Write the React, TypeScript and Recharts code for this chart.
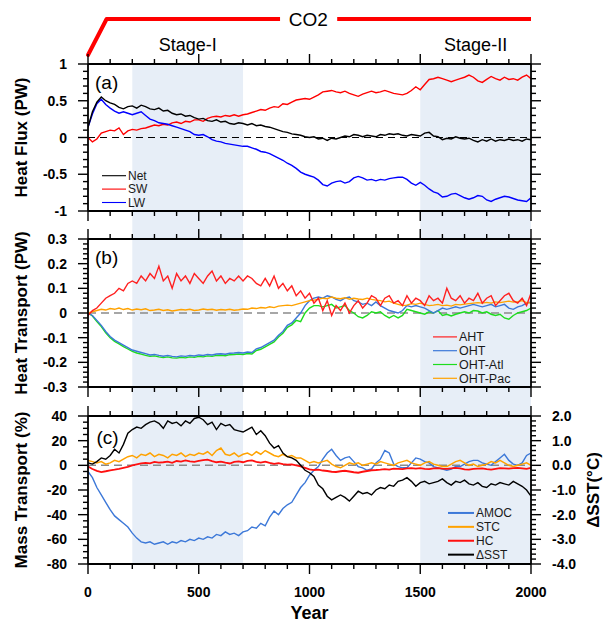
import React from 'react';
import {
  LineChart, Line, XAxis, YAxis, ReferenceArea, ReferenceLine, ReferenceDot, Legend
} from 'recharts';

// 전체 크기와 플롯 영역 경계
const W = 605;
const H = 627;
const PLOT_L = 88;
const PLOT_R = 531;
const AX = 10; // 축 밴드 두께

// 연도 (20년 간격)
const YEARS = Array.from({ length: 101 }, (_, i) => i * 20);

// (a) Heat Flux (PW)
const NET = [
  0.14, 0.35, 0.48, 0.55, 0.50, 0.47, 0.45, 0.41, 0.39, 0.42,
  0.43, 0.40, 0.44, 0.42, 0.39, 0.38, 0.40, 0.36, 0.37, 0.33,
  0.31, 0.32, 0.29, 0.30, 0.27, 0.25, 0.26, 0.23, 0.22, 0.24,
  0.21, 0.22, 0.19, 0.18, 0.20, 0.19, 0.17, 0.19, 0.16, 0.17,
  0.15, 0.14, 0.12, 0.10, 0.08, 0.07, 0.05, 0.04, 0.03, 0.01,
  0.00, 0.01, -0.02, -0.01, -0.04, -0.01, -0.02, 0.00, 0.02, 0.01,
  0.04, 0.03, 0.01, 0.03, 0.02, 0.01, 0.04, 0.03, 0.05, 0.04,
  0.05, 0.03, 0.02, 0.04, 0.03, 0.02, 0.06, 0.07, 0.02, 0.01,
  -0.03, -0.01, -0.02, 0.01, -0.01, -0.02, -0.01, -0.04, -0.06, -0.03,
  -0.05, -0.02, -0.05, -0.03, -0.04, -0.02, -0.04, -0.03, -0.05, -0.02,
  -0.03,
];
const SW = [
  0.00, -0.06, -0.02, 0.06, 0.08, 0.10, 0.09, 0.13, 0.04, 0.09,
  0.11, 0.10, 0.12, 0.13, 0.15, 0.17, 0.16, 0.18, 0.17, 0.20,
  0.21, 0.19, 0.22, 0.21, 0.24, 0.24, 0.22, 0.26, 0.28, 0.29,
  0.28, 0.30, 0.29, 0.31, 0.29, 0.31, 0.32, 0.34, 0.36, 0.38,
  0.37, 0.40, 0.42, 0.41, 0.46, 0.45, 0.48, 0.51, 0.52, 0.53,
  0.52, 0.55, 0.58, 0.62, 0.63, 0.64, 0.62, 0.61, 0.63, 0.60,
  0.58, 0.56, 0.59, 0.61, 0.63, 0.61, 0.62, 0.64, 0.62, 0.60,
  0.59, 0.58, 0.60, 0.64, 0.69, 0.65, 0.72, 0.79, 0.80, 0.82,
  0.80, 0.78, 0.76, 0.78, 0.80, 0.82, 0.85, 0.82, 0.77, 0.75,
  0.79, 0.83, 0.80, 0.78, 0.82, 0.79, 0.80, 0.78, 0.82, 0.85,
  0.80,
];
const LW = [
  0.14, 0.32, 0.46, 0.52, 0.45, 0.40, 0.36, 0.33, 0.35, 0.33,
  0.31, 0.33, 0.35, 0.30, 0.25, 0.23, 0.20, 0.19, 0.18, 0.16,
  0.14, 0.12, 0.10, 0.08, 0.04, 0.03, 0.04, 0.01, -0.03, -0.05,
  -0.06, -0.08, -0.09, -0.10, -0.11, -0.12, -0.12, -0.14, -0.16, -0.19,
  -0.20, -0.22, -0.25, -0.28, -0.31, -0.35, -0.38, -0.42, -0.47, -0.50,
  -0.52, -0.54, -0.58, -0.64, -0.66, -0.62, -0.60, -0.59, -0.62, -0.60,
  -0.55, -0.53, -0.55, -0.58, -0.57, -0.59, -0.57, -0.58, -0.56, -0.55,
  -0.54, -0.54, -0.57, -0.62, -0.65, -0.61, -0.65, -0.70, -0.74, -0.76,
  -0.81, -0.80, -0.77, -0.76, -0.79, -0.82, -0.84, -0.82, -0.79, -0.80,
  -0.85, -0.87, -0.84, -0.82, -0.80, -0.81, -0.83, -0.85, -0.86, -0.87,
  -0.82,
];

// (b) Heat Transport (PW)
const AHT = [
  -0.01, 0.01, 0.02, 0.04, 0.06, 0.07, 0.08, 0.10, 0.09, 0.12,
  0.13, 0.12, 0.15, 0.13, 0.16, 0.14, 0.19, 0.13, 0.15, 0.10,
  0.16, 0.13, 0.15, 0.12, 0.16, 0.14, 0.12, 0.15, 0.17, 0.13,
  0.15, 0.12, 0.14, 0.13, 0.15, 0.13, 0.15, 0.14, 0.12, 0.11,
  0.14, 0.11, 0.15, 0.10, 0.12, 0.09, 0.11, 0.07, 0.09, 0.06,
  0.08, 0.04, 0.06, 0.01, 0.05, -0.01, 0.03, 0.01, 0.04, 0.00,
  0.03, 0.05, 0.02, 0.04, 0.07, 0.06, 0.03, 0.06, 0.07, 0.04,
  0.05, 0.03, 0.07, 0.04, 0.06, 0.05, 0.03, 0.07, 0.05, 0.06,
  0.04, 0.10, 0.06, 0.05, 0.07, 0.04, 0.06, 0.05, 0.08, 0.04,
  0.06, 0.07, 0.03, 0.05, 0.07, 0.08, 0.05, 0.04, 0.06, 0.03,
  0.08,
];
const OHT = [
  0.0, -0.01, -0.03, -0.05, -0.075, -0.095, -0.11, -0.12, -0.13, -0.14,
  -0.15, -0.155, -0.16, -0.165, -0.17, -0.168, -0.172, -0.175, -0.172, -0.176,
  -0.178, -0.174, -0.176, -0.172, -0.174, -0.17, -0.172, -0.168, -0.17, -0.166,
  -0.165, -0.167, -0.163, -0.162, -0.16, -0.162, -0.158, -0.16, -0.145, -0.14,
  -0.13, -0.12, -0.11, -0.09, -0.075, -0.05, -0.04, -0.02, 0.0, 0.03,
  0.05, 0.06, 0.065, 0.06, 0.07, 0.065, 0.055, 0.05, 0.06, 0.065,
  0.05, 0.045, 0.035, 0.04, 0.03, 0.045, 0.03, 0.02, 0.01, 0.005,
  0.0, 0.01, 0.03, 0.025, 0.03, 0.025, 0.02, 0.01, 0.0, 0.01,
  0.02, 0.015, 0.02, 0.025, 0.02, 0.025, 0.03, 0.035, 0.03, 0.025,
  0.03, 0.035, 0.025, 0.03, 0.035, 0.02, 0.015, 0.025, 0.03, 0.04,
  0.045,
];
const OHT_ATL = [
  0.0, -0.012, -0.035, -0.055, -0.08, -0.1, -0.115, -0.125, -0.136, -0.146,
  -0.156, -0.162, -0.167, -0.172, -0.176, -0.174, -0.178, -0.181, -0.178, -0.182,
  -0.183, -0.18, -0.182, -0.178, -0.18, -0.176, -0.178, -0.174, -0.176, -0.172,
  -0.171, -0.173, -0.169, -0.168, -0.166, -0.168, -0.164, -0.166, -0.152, -0.147,
  -0.137, -0.127, -0.117, -0.097, -0.082, -0.058, -0.048, -0.03, -0.035, 0.0,
  0.02, 0.03, 0.03, 0.025, 0.03, 0.035, 0.02, 0.025, 0.03, 0.01,
  0.0, -0.015, -0.02, -0.01, 0.005, 0.0, 0.005, -0.01, -0.02, -0.01,
  -0.02, -0.01, 0.015, 0.01, 0.005, 0.0, -0.005, 0.005, 0.0, 0.01,
  -0.01, -0.005, -0.012, -0.005, 0.0, 0.005, 0.0, 0.01, 0.008, 0.0,
  0.005, -0.005, -0.01, -0.005, -0.02, -0.025, -0.01, 0.0, 0.005, 0.01,
  0.02,
];
const OHT_PAC = [
  0.0, 0.005, 0.01, 0.015, 0.012, 0.018, 0.015, 0.02, 0.014, 0.018,
  0.012, 0.016, 0.013, 0.017, 0.01, 0.012, 0.015, 0.01, 0.013, 0.008,
  0.011, 0.014, 0.012, 0.015, 0.01, 0.012, 0.016, 0.013, 0.015, 0.011,
  0.014, 0.012, 0.015, 0.011, 0.013, 0.016, 0.015, 0.02, 0.018, 0.022,
  0.02, 0.025, 0.022, 0.028, 0.03, 0.032, 0.03, 0.035, 0.04, 0.045,
  0.05, 0.052, 0.055, 0.06, 0.058, 0.065, 0.06, 0.058, 0.062, 0.056,
  0.06, 0.057, 0.055, 0.06, 0.055, 0.052, 0.05, 0.045, 0.048, 0.04,
  0.035, 0.03, 0.032, 0.038, 0.035, 0.04, 0.035, 0.03, 0.032, 0.035,
  0.03, 0.032, 0.028, 0.035, 0.033, 0.036, 0.038, 0.04, 0.042, 0.04,
  0.043, 0.04, 0.045, 0.042, 0.045, 0.048, 0.044, 0.046, 0.05, 0.042,
  0.04,
];

// (c) Mass Transport (%) + ΔSST (°C)
const AMOC = [
  -5, -10, -18, -24, -30, -36, -41, -44, -47, -50,
  -55, -59, -62, -63, -62, -64, -63, -62, -64, -62,
  -63, -61, -62, -60, -61, -59, -60, -58, -59, -56,
  -57, -54, -56, -55, -57, -54, -53, -50, -51, -47,
  -49, -42, -37, -40, -35, -32, -30, -24, -18, -14,
  -8, -4, -1, 5, 10, 13, 8, 4, 6, 7,
  3, -1, -2, -4, -3, 2, 5, 12, 10, 1,
  -1, -2, -2, 2, 6, 5, 3, 2, -1, -2,
  -3, -4, -3, -1, -1, 1, 3, 4, 4, 2,
  1, 0, 3, 6, 9, 4, 1, 0, 2, 8,
  10,
];
const STC = [
  4, 3, 2, 3, 1, 2, 4, 3, 5, 7,
  8, 6, 9, 8, 10, 7, 9, 8, 6, 9,
  8, 10, 7, 9, 8, 10, 9, 11, 8, 12,
  14, 9, 8, 10, 7, 9, 10, 8, 11, 9,
  12, 10, 8, 7, 9, 7, 8, 6, 6, 4,
  2, 3, 2, 3, 4, 1, -1, -2, 0, 2,
  1, 2, 0, 1, 2, 1, 3, 2, 1, 0,
  2, 3, 4, 2, 1, 0, 2, 3, 1, 0,
  -1, -1, 1, 3, 4, 2, 0, 1, -1, 0,
  1, 3, 2, 4, 2, 0, -1, 0, 1, 2,
  0,
];
const HC = [
  -1, -3, -4.5, -5.5, -4.8, -4, -3.5, -2.8, -2, -1.2,
  0, 0.8, 1.5, 2, 1.6, 2.8, 2.2, 2.5, 3, 2,
  3.5, 3, 4, 3.2, 2.8, 3.6, 4.2, 4.6, 3.5, 2.5,
  3, 2.2, 1.5, 2.8, 3.2, 2.5, 3.6, 4, 2.8, 2.2,
  3, 2, 1.2, 1.8, 1, 0.5, 0.8, 0, -0.8, -2,
  -3.2, -3.8, -3.5, -4.2, -4.6, -5.2, -5.4, -4.8, -4.4, -5,
  -5.6, -6, -5.2, -4.6, -4, -3.8, -3.5, -3, -3.4, -2.6,
  -2.8, -3, -2.4, -2.2, -2.6, -2.2, -2.8, -3, -2.4, -2.2,
  -2.6, -2.8, -2.4, -2, -2.4, -3.2, -3.4, -2.8, -2.6, -2.4,
  -3, -3.4, -2.8, -2.2, -2.4, -2.6, -2.2, -2, -2.4, -2.8,
  -2,
];
const DSST = [
  0.1, 0.05, 0.15, 0.3, 0.25, 0.4, 0.65, 0.5, 0.85, 1.3,
  1.45, 1.55, 1.5, 1.65, 1.75, 1.8, 1.7, 1.5, 1.8, 1.7,
  1.75, 1.6, 1.8, 1.7, 1.9, 1.95, 1.85, 1.65, 1.75, 1.45,
  1.7, 1.6, 1.65, 1.45, 1.4, 1.35, 1.45, 1.55, 1.25, 1.4,
  1.2, 0.9, 0.7, 0.8, 0.5, 0.35, 0.3, 0.2, 0.0, -0.2,
  -0.3, -0.45, -0.8, -0.95, -1.25, -1.4, -1.3, -1.2, -1.3, -1.45,
  -1.25, -1.05, -1.15, -1.1, -1.2, -1.0, -0.9, -0.95, -0.8, -0.85,
  -0.65, -0.6, -0.5, -0.65, -0.85, -0.7, -0.65, -0.75, -0.7, -0.65,
  -0.55, -0.7, -0.8, -0.65, -0.7, -0.6, -0.75, -0.8, -0.7, -0.85,
  -0.9, -0.75, -0.8, -0.7, -0.75, -0.8, -0.65, -0.75, -0.85, -1.0,
  -1.25,
];

// 범례 이름
const NAMES_A = ['Net', 'SW', 'LW'];
const NAMES_B = ['AHT', 'OHT', 'OHT-Atl', 'OHT-Pac'];
const NAMES_C = ['AMOC', 'STC', 'HC', '\u0394SST'];

// 눈금 (주 눈금 + 보조 눈금 간격)
const range = (lo: number, hi: number, step: number) => {
  const out: number[] = [];
  const n = Math.round((hi - lo) / step);
  for (let i = 0; i <= n; i++) out.push(+(lo + i * step).toFixed(4));
  return out;
};
const X_MAJOR = [0, 500, 1000, 1500, 2000];
const X_TICKS = range(0, 2000, 100);
const A_MAJOR = [-1, -0.5, 0, 0.5, 1];
const A_TICKS = range(-1, 1, 0.1);
const B_MAJOR = [-0.3, -0.2, -0.1, 0, 0.1, 0.2, 0.3];
const B_TICKS = range(-0.3, 0.3, 0.02);
const C_MAJOR = [-80, -60, -40, -20, 0, 20, 40];
const C_TICKS = range(-80, 40, 5);
const D_MAJOR = [-4, -3, -2, -1, 0, 1, 2];
const D_TICKS = range(-4, 2, 0.2);

// 색상
const SHADE = '#E7EEF7';
const C_NET = '#000000';
const C_SW = '#FF0000';
const C_LW = '#0000FF';
const C_AHT = '#FF2020';
const C_OHT = '#3C78D8';
const C_ATL = '#1EDC1E';
const C_PAC = '#FFA200';
const C_AMOC = '#3C78D8';
const C_STC = '#FFA200';
const C_HC = '#FF1010';
const C_DSST = '#000000';

const DATA = YEARS.map((year, i) => ({
  year,
  net: NET[i], sw: SW[i], lw: LW[i],
  aht: AHT[i], oht: OHT[i], atl: OHT_ATL[i], pac: OHT_PAC[i],
  amoc: AMOC[i], stc: STC[i], hc: HC[i], dsst: DSST[i],
}));

const AXIS_LINE = { stroke: '#000', strokeWidth: 1.8 };

const chartMargin = (top: number, bottom: number) => ({
  top: top - AX,
  bottom: H - bottom - AX,
  left: PLOT_L - AX,
  right: W - PLOT_R - AX,
});

// x축 눈금: 주 눈금은 길게, 보조 눈금은 짧게 (바깥쪽)
const xTick = (dir: number, withLabel: boolean) => (p: any) => {
  const v = p.payload.value;
  const major = X_MAJOR.includes(v);
  const len = major ? 10 : 5;
  return (
    <g>
      <line x1={p.x} x2={p.x} y1={p.y} y2={p.y + dir * len} stroke="#000" strokeWidth={1.4} />
      {withLabel && major && (
        <text x={p.x} y={p.y + 28} dy={5} textAnchor="middle" fontSize={14} fontWeight="bold" fill="#000">
          {v}
        </text>
      )}
    </g>
  );
};

// y축 눈금
const yTick = (dir: number, majors: number[], fmt: ((v: number) => string) | null) => (p: any) => {
  const v = p.payload.value;
  const major = majors.some((m) => Math.abs(m - v) < 1e-6);
  const len = major ? 10 : 5;
  return (
    <g>
      <line x1={p.x} x2={p.x + dir * len} y1={p.y} y2={p.y} stroke="#000" strokeWidth={1.4} />
      {fmt && major && (
        <text x={p.x + dir * 21} y={p.y} dy={5} textAnchor={dir < 0 ? 'end' : 'start'}
          fontSize={14} fontWeight="bold" fill="#000">
          {fmt(v)}
        </text>
      )}
    </g>
  );
};

const fmtPlain = (v: number) => String(v);
const fmtOne = (v: number) => v.toFixed(1);

// 세로 축 제목
const sideTitle = (text: string, x: number) => (p: any) => {
  const vb = p.viewBox;
  const cy = vb.y + vb.height / 2;
  return (
    <text x={x} y={cy} dy={6} transform={`rotate(-90 ${x} ${cy})`} textAnchor="middle"
      fontSize={17} fontWeight="bold" fill="#000">
      {text}
    </text>
  );
};

const yearTitle = (p: any) => {
  const vb = p.viewBox;
  return (
    <text x={vb.x + vb.width / 2} y={612} dy={6.5} textAnchor="middle" fontSize={18} fontWeight="bold" fill="#000">
      Year
    </text>
  );
};

// 범례 (선 + 이름)
const legendContent = (names: string[], colors: string[], fontSize: number, rowH: number, lineLen: number, lineW: number) => () => (
  <svg width={lineLen + 80} height={rowH * names.length} style={{ display: 'block', overflow: 'visible' }}>
    {names.map((name, i) => {
      const y = rowH * i + rowH / 2;
      return (
        <g key={name}>
          <line x1={0} x2={lineLen} y1={y} y2={y} stroke={colors[i]} strokeWidth={lineW} />
          <text x={lineLen + 2} y={y} dy={fontSize * 0.36} fontSize={fontSize} fill="#1a1a1a">{name}</text>
        </g>
      );
    })}
  </svg>
);

const panelLabel = (text: string) => ({ value: text, position: 'center' as const, fontSize: 19, fill: '#000' });

const sharedX = (withLabel: boolean) => [
  <XAxis key="xb" dataKey="year" type="number" domain={[0, 2000]} allowDataOverflow ticks={X_TICKS}
    interval={0} height={AX} tickSize={0} tickMargin={0} tickLine={false} axisLine={AXIS_LINE}
    tick={xTick(1, withLabel)} label={withLabel ? yearTitle : undefined} />,
  <XAxis key="xt" xAxisId="top" orientation="top" dataKey="year" type="number" domain={[0, 2000]} allowDataOverflow
    ticks={X_TICKS} interval={0} height={AX} tickSize={0} tickMargin={0} tickLine={false} axisLine={AXIS_LINE}
    tick={xTick(-1, false)} />,
];

const PanelA = () => (
  <LineChart width={W} height={H} data={DATA} margin={chartMargin(64, 211)}>
    <ReferenceArea x1={200} x2={700} y1={-1.381} y2={1} fill={SHADE} fillOpacity={1} stroke="none" ifOverflow="visible" />
    <ReferenceArea x1={1500} x2={2000} y1={-1.381} y2={1} fill={SHADE} fillOpacity={1} stroke="none" ifOverflow="visible" />
    {sharedX(false)}
    <YAxis type="number" domain={[-1, 1]} allowDataOverflow ticks={A_TICKS} interval={0} width={AX}
      tickSize={0} tickMargin={0} tickLine={false} axisLine={AXIS_LINE} tick={yTick(-1, A_MAJOR, fmtPlain)}
      label={sideTitle('Heat Flux (PW)', 21)} />
    <YAxis yAxisId="right" orientation="right" type="number" domain={[-1, 1]} allowDataOverflow ticks={A_TICKS}
      interval={0} width={AX} tickSize={0} tickMargin={0} tickLine={false} axisLine={AXIS_LINE}
      tick={yTick(1, A_MAJOR, null)} />
    <ReferenceLine y={0} stroke="#000" strokeDasharray="7 5" strokeWidth={1} />
    <Line dataKey="sw" stroke={C_SW} strokeWidth={1.4} dot={false} isAnimationActive={false} />
    <Line dataKey="lw" stroke={C_LW} strokeWidth={1.4} dot={false} isAnimationActive={false} />
    <Line dataKey="net" stroke={C_NET} strokeWidth={1.4} dot={false} isAnimationActive={false} />
    {/* CO2 증가 구간 표시 */}
    <ReferenceLine segment={[{ x: 0, y: 1.122 }, { x: 84, y: 1.612 }]} stroke="#FF0000" strokeWidth={4} strokeLinecap="round" ifOverflow="visible" />
    <ReferenceLine segment={[{ x: 84, y: 1.612 }, { x: 867, y: 1.612 }]} stroke="#FF0000" strokeWidth={4} ifOverflow="visible" />
    <ReferenceLine segment={[{ x: 1125, y: 1.612 }, { x: 2000, y: 1.612 }]} stroke="#FF0000" strokeWidth={4} ifOverflow="visible" />
    <ReferenceDot x={995} y={1.612} r={0.1} fill="none" stroke="none" ifOverflow="visible"
      label={{ value: 'CO2', position: 'center', fontSize: 19, fill: '#000' }} />
    <ReferenceDot x={450} y={1.265} r={0.1} fill="none" stroke="none" ifOverflow="visible"
      label={{ value: 'Stage-I', position: 'center', fontSize: 18, fill: '#000' }} />
    <ReferenceDot x={1750} y={1.265} r={0.1} fill="none" stroke="none" ifOverflow="visible"
      label={{ value: 'Stage-II', position: 'center', fontSize: 18, fill: '#000' }} />
    <ReferenceDot x={84} y={0.755} r={0.1} fill="none" stroke="none" ifOverflow="visible" label={panelLabel('(a)')} />
    <Legend layout="horizontal" verticalAlign="middle" align="center"
      wrapperStyle={{ left: 102, top: 169, width: 110, height: 40 }}
      content={legendContent(NAMES_A, [C_NET, C_SW, C_LW], 12, 13.4, 24, 1.1)} />
  </LineChart>
);

const PanelB = () => (
  <LineChart width={W} height={H} data={DATA} margin={chartMargin(239, 387)}>
    <ReferenceArea x1={200} x2={700} y1={-0.4176} y2={0.3} fill={SHADE} fillOpacity={1} stroke="none" ifOverflow="visible" />
    <ReferenceArea x1={1500} x2={2000} y1={-0.4176} y2={0.3} fill={SHADE} fillOpacity={1} stroke="none" ifOverflow="visible" />
    {sharedX(false)}
    <YAxis type="number" domain={[-0.3, 0.3]} allowDataOverflow ticks={B_TICKS} interval={0} width={AX}
      tickSize={0} tickMargin={0} tickLine={false} axisLine={AXIS_LINE} tick={yTick(-1, B_MAJOR, fmtPlain)}
      label={sideTitle('Heat Transport (PW)', 21)} />
    <YAxis yAxisId="right" orientation="right" type="number" domain={[-0.3, 0.3]} allowDataOverflow ticks={B_TICKS}
      interval={0} width={AX} tickSize={0} tickMargin={0} tickLine={false} axisLine={AXIS_LINE}
      tick={yTick(1, B_MAJOR, null)} />
    <ReferenceLine y={0} stroke="#8a8a8a" strokeDasharray="8 5" strokeWidth={1.5} />
    <Line dataKey="atl" stroke={C_ATL} strokeWidth={1.4} dot={false} isAnimationActive={false} />
    <Line dataKey="oht" stroke={C_OHT} strokeWidth={1.4} dot={false} isAnimationActive={false} />
    <Line dataKey="pac" stroke={C_PAC} strokeWidth={1.4} dot={false} isAnimationActive={false} />
    <Line dataKey="aht" stroke={C_AHT} strokeWidth={1.4} dot={false} isAnimationActive={false} />
    <ReferenceDot x={84} y={0.227} r={0.1} fill="none" stroke="none" ifOverflow="visible" label={panelLabel('(b)')} />
    <Legend layout="horizontal" verticalAlign="middle" align="center"
      wrapperStyle={{ left: 433, top: 330, width: 110, height: 55 }}
      content={legendContent(NAMES_B, [C_AHT, C_OHT, C_ATL, C_PAC], 12.5, 13.8, 24, 1.2)} />
  </LineChart>
);

const PanelC = () => (
  <LineChart width={W} height={H} data={DATA} margin={chartMargin(416, 564)}>
    <ReferenceArea x1={200} x2={700} y1={-80} y2={40} fill={SHADE} fillOpacity={1} stroke="none" ifOverflow="visible" />
    <ReferenceArea x1={1500} x2={2000} y1={-80} y2={40} fill={SHADE} fillOpacity={1} stroke="none" ifOverflow="visible" />
    {sharedX(true)}
    <YAxis type="number" domain={[-80, 40]} allowDataOverflow ticks={C_TICKS} interval={0} width={AX}
      tickSize={0} tickMargin={0} tickLine={false} axisLine={AXIS_LINE} tick={yTick(-1, C_MAJOR, fmtPlain)}
      label={sideTitle('Mass Transport (%)', 21)} />
    <YAxis yAxisId="right" orientation="right" type="number" domain={[-4, 2]} allowDataOverflow ticks={D_TICKS}
      interval={0} width={AX} tickSize={0} tickMargin={0} tickLine={false} axisLine={AXIS_LINE}
      tick={yTick(1, D_MAJOR, fmtOne)} label={sideTitle('\u0394SST(\u00B0C)', 593)} />
    <ReferenceLine y={0} stroke="#8a8a8a" strokeDasharray="8 5" strokeWidth={1.5} />
    <Line dataKey="amoc" stroke={C_AMOC} strokeWidth={1.4} dot={false} isAnimationActive={false} />
    <Line dataKey="hc" stroke={C_HC} strokeWidth={1.8} dot={false} isAnimationActive={false} />
    <Line dataKey="stc" stroke={C_STC} strokeWidth={1.5} dot={false} isAnimationActive={false} />
    <Line dataKey="dsst" yAxisId="right" stroke={C_DSST} strokeWidth={1.4} dot={false} isAnimationActive={false} />
    <ReferenceDot x={88} y={23} r={0.1} fill="none" stroke="none" ifOverflow="visible" label={panelLabel('(c)')} />
    <Legend layout="horizontal" verticalAlign="middle" align="center"
      wrapperStyle={{ left: 448, top: 506, width: 110, height: 56 }}
      content={legendContent(NAMES_C, [C_AMOC, C_STC, C_HC, C_DSST], 12, 13.9, 26, 2)} />
  </LineChart>
);

export default function App() {
  return (
    <div style={{
      position: 'absolute', left: 0, top: 0, width: W, height: H, background: '#fff',
      fontFamily: '"Liberation Sans", Arial, Helvetica, sans-serif',
    }}>
      <div style={{ position: 'absolute', left: 0, top: 0 }}><PanelA /></div>
      <div style={{ position: 'absolute', left: 0, top: 0 }}><PanelB /></div>
      <div style={{ position: 'absolute', left: 0, top: 0 }}><PanelC /></div>
    </div>
  );
}
